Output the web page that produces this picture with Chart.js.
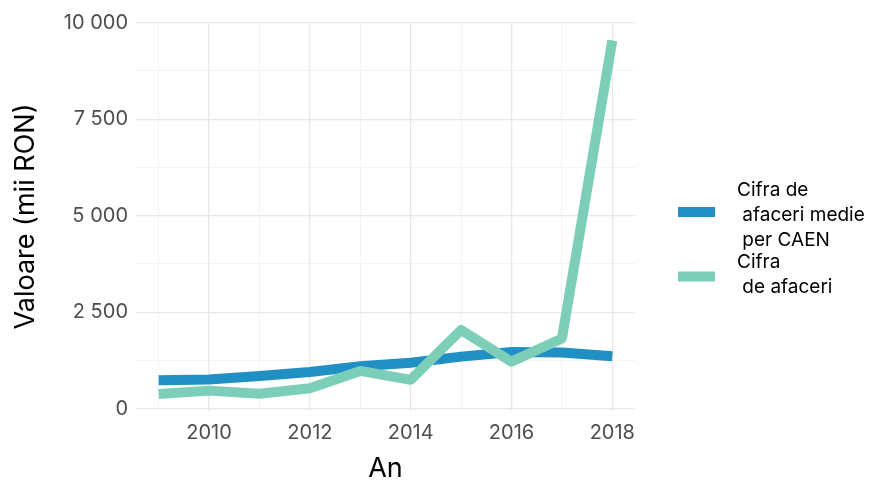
<!DOCTYPE html>
<html>
<head>
<meta charset="utf-8">
<script src="https://cdn.jsdelivr.net/npm/chart.js@4"></script>
<style>
  html, body { margin: 0; padding: 0; background: #ffffff; }
  #wrap { width: 884px; height: 484px; }
</style>
</head>
<body>
<div id="wrap"><canvas id="c" width="884" height="484"></canvas></div>
<script>
const years = [2009, 2010, 2011, 2012, 2013, 2014, 2015, 2016, 2017, 2018];
const cifraMedie = [740, 760, 850, 950, 1100, 1190, 1350, 1470, 1460, 1360];
const cifraAfaceri = [385, 470, 390, 530, 980, 750, 2040, 1220, 1820, 9540];
const yTickValues = [0, 2500, 5000, 7500, 10000];
const xTickValues = [2010, 2012, 2014, 2016, 2018];
const seriesLabels = ['Cifra de\n afaceri medie\n per CAEN', 'Cifra\n de afaceri'];
const seriesColors = ['#1f8fc4', '#7dceb8'];
const xTitle = 'An';
const yTitle = 'Valoare (mii RON)';

const FONT = "Inter, 'Liberation Sans', Arial, sans-serif";

function fmt(v) {
  return String(v).replace(/\B(?=(\d{3})+(?!\d))/g, ' ');
}

const legendPlugin = {
  id: 'sideLegend',
  afterDraw(chart) {
    const ctx = chart.ctx;
    ctx.save();
    ctx.font = '19px ' + FONT;
    ctx.fillStyle = '#000000';
    ctx.textBaseline = 'middle';
    ctx.textAlign = 'left';
    const lineH = 25;
    const blocks = [{ top: 190 }, { top: 262 }];
    chart.data.datasets.forEach((ds, i) => {
      const lines = ds.label.split('\n');
      const y0 = blocks[i].top;
      lines.forEach((ln, j) => ctx.fillText(ln, 737, y0 + j * lineH));
      const mid = y0 + (lines.length - 1) * lineH / 2;
      ctx.fillStyle = ds.borderColor;
      ctx.fillRect(678, mid - 5 - (i === 0 ? 3 : -2), 37, 10);
      ctx.fillStyle = '#000000';
    });
    ctx.restore();
  }
};

new Chart(document.getElementById('c'), {
  type: 'line',
  data: {
    datasets: [
      {
        label: seriesLabels[0],
        data: years.map((y, i) => ({ x: y, y: cifraMedie[i] })),
        borderColor: seriesColors[0],
        backgroundColor: seriesColors[0],
        borderWidth: 10,
        pointRadius: 0,
        tension: 0,
        borderCapStyle: 'butt',
        borderJoinStyle: 'round',
        order: 2
      },
      {
        label: seriesLabels[1],
        data: years.map((y, i) => ({ x: y, y: cifraAfaceri[i] })),
        borderColor: seriesColors[1],
        backgroundColor: seriesColors[1],
        borderWidth: 10,
        pointRadius: 0,
        tension: 0,
        borderCapStyle: 'butt',
        borderJoinStyle: 'round',
        order: 1
      }
    ]
  },
  options: {
    responsive: false,
    animation: false,
    layout: { padding: { top: 22, right: 249, bottom: 0, left: 0 } },
    plugins: {
      legend: { display: false },
      tooltip: { enabled: false }
    },
    scales: {
      x: {
        type: 'linear',
        min: 2008.55,
        max: 2018.45,
        afterBuildTicks(scale) {
          scale.ticks = years.map(v => ({ value: v }));
        },
        afterFit(scale) { scale.height = 73; },
        border: { display: false },
        grid: {
          drawTicks: false,
          color: c => (c.tick && xTickValues.includes(c.tick.value)) ? '#e8e8e8' : '#f0f0f0',
          lineWidth: c => (c.tick && xTickValues.includes(c.tick.value)) ? 1.3 : 0.8
        },
        ticks: {
          autoSkip: false,
          maxRotation: 0,
          padding: 10,
          color: '#4d4d4d',
          font: { family: FONT, size: 20 },
          callback: v => xTickValues.includes(v) ? String(v) : ''
        },
        title: {
          display: true,
          text: xTitle,
          color: '#000000',
          font: { family: FONT, size: 27, lineHeight: 1.1 },
          padding: { top: 1, bottom: 0 }
        }
      },
      y: {
        type: 'linear',
        min: -58,
        max: 10018,
        afterBuildTicks(scale) {
          scale.ticks = [0, 1250, 2500, 3750, 5000, 6250, 7500, 8750, 10000].map(v => ({ value: v }));
        },
        afterFit(scale) { scale.width = 136; },
        border: { display: false },
        grid: {
          drawTicks: false,
          color: c => (c.tick && yTickValues.includes(c.tick.value)) ? '#e8e8e8' : '#f0f0f0',
          lineWidth: c => (c.tick && yTickValues.includes(c.tick.value)) ? 1.3 : 0.8
        },
        ticks: {
          autoSkip: false,
          padding: 8,
          color: '#4d4d4d',
          font: { family: FONT, size: 20 },
          callback: v => yTickValues.includes(v) ? fmt(v) : ''
        },
        title: {
          display: true,
          text: yTitle,
          color: '#000000',
          font: { family: FONT, size: 27, lineHeight: 1.1 },
          padding: { top: 11, bottom: 0 }
        }
      }
    }
  },
  plugins: [legendPlugin]
});
</script>
</body>
</html>
